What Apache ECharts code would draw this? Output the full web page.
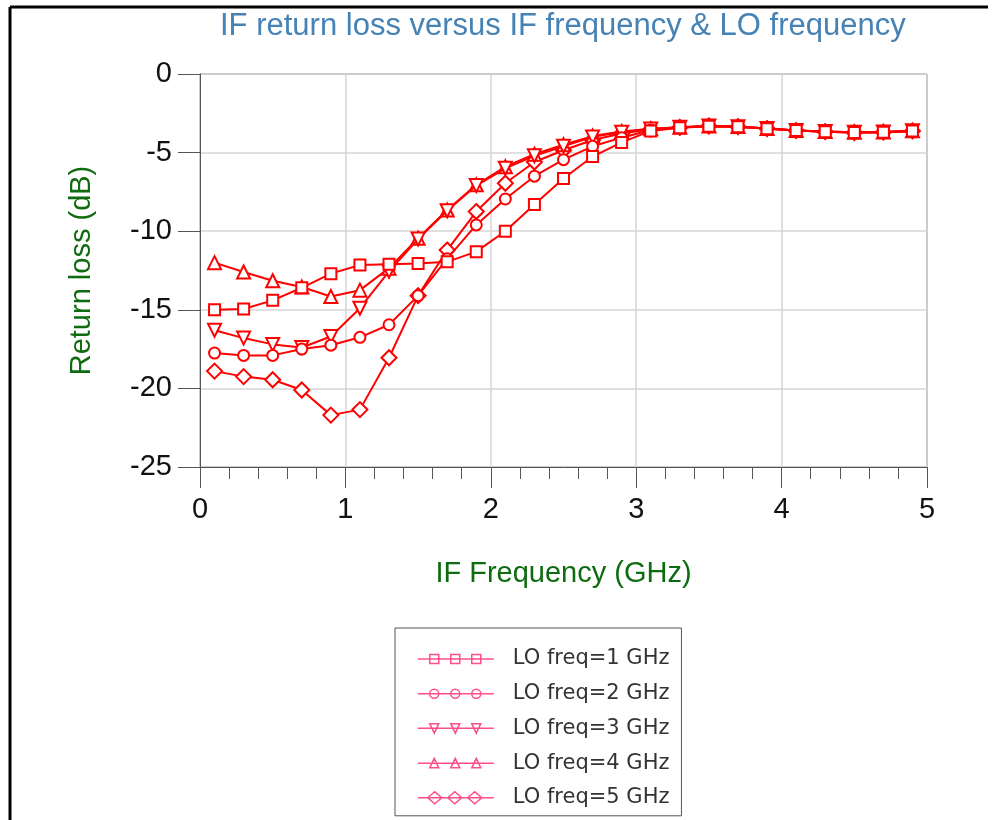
<!DOCTYPE html>
<html>
<head>
<meta charset="utf-8">
<script src="https://cdn.jsdelivr.net/npm/echarts@6/dist/echarts.min.js"></script>
<style>
  html, body { margin: 0; padding: 0; background: #fff; }
  #chart { width: 996px; height: 820px; }
</style>
</head>
<body>
<div id="chart"></div>
<script>
// IF frequency (GHz)
const freq = [0.1, 0.3, 0.5, 0.7, 0.9, 1.1, 1.3, 1.5, 1.7, 1.9, 2.1, 2.3, 2.5, 2.7, 2.9,
  3.1, 3.3, 3.5, 3.7, 3.9, 4.1, 4.3, 4.5, 4.7, 4.9];
// return loss (dB) for each LO frequency
const lo1 = [-15.0, -14.95, -14.4, -13.6, -12.7, -12.15, -12.1, -12.05, -11.95, -11.3, -10.0, -8.3, -6.65, -5.25, -4.35,
  -3.62, -3.42, -3.33, -3.36, -3.48, -3.6, -3.67, -3.72, -3.7, -3.62];
const lo2 = [-17.75, -17.9, -17.9, -17.5, -17.25, -16.75, -15.95, -14.1, -11.75, -9.6, -7.95, -6.5, -5.45, -4.6, -4.05,
  -3.56, -3.4, -3.32, -3.35, -3.47, -3.6, -3.67, -3.72, -3.7, -3.62];
const lo3 = [-16.3, -16.8, -17.2, -17.4, -16.7, -14.9, -12.55, -10.5, -8.7, -7.1, -6.0, -5.2, -4.6, -4.0, -3.7,
  -3.5, -3.39, -3.31, -3.35, -3.47, -3.59, -3.66, -3.71, -3.69, -3.61];
const lo4 = [-12.0, -12.6, -13.15, -13.55, -14.15, -13.75, -12.35, -10.45, -8.65, -7.05, -5.9, -5.1, -4.5, -3.95, -3.65,
  -3.49, -3.38, -3.3, -3.34, -3.46, -3.59, -3.66, -3.71, -3.69, -3.61];
const lo5 = [-18.9, -19.25, -19.45, -20.1, -21.7, -21.35, -18.05, -14.1, -11.2, -8.75, -6.95, -5.6, -4.85, -4.2, -3.78,
  -3.52, -3.4, -3.31, -3.35, -3.47, -3.6, -3.67, -3.72, -3.7, -3.62];
const names = ['LO freq=1 GHz', 'LO freq=2 GHz', 'LO freq=3 GHz', 'LO freq=4 GHz', 'LO freq=5 GHz'];
const xTicks = [0, 1, 2, 3, 4, 5];
const yTicks = [0, -5, -10, -15, -20, -25];

const font = 'Liberation Sans, Arial, sans-serif';
const red = '#ff0000';
const pink = '#ff4f8a';

// marker per curve: [symbol, size, rotate]
const marks = [
  ['emptyRect', 11, 0],
  ['emptyCircle', 11, 0],
  ['emptyTriangle', 13, 180],
  ['emptyTriangle', 13, 0],
  ['emptyDiamond', 15, 0]
];
// legend icons: line with three markers
const icons = [
  'path://M0,7H76M12,2.5h9v9h-9zM33,2.5h9v9h-9zM54,2.5h9v9h-9z',
  'path://M0,7H76M12,7a4.5,4.5 0 1,0 9,0a4.5,4.5 0 1,0 -9,0M33,7a4.5,4.5 0 1,0 9,0a4.5,4.5 0 1,0 -9,0M54,7a4.5,4.5 0 1,0 9,0a4.5,4.5 0 1,0 -9,0',
  'path://M0,7H76M12,2.5H21L16.5,12ZM33,2.5H42L37.5,12ZM54,2.5H63L58.5,12Z',
  'path://M0,7H76M16.5,2L21,11.5H12ZM37.5,2L42,11.5H33ZM58.5,2L63,11.5H54Z',
  'path://M0,7H76M10,7L17,1L24,7L17,13ZM30,7L37,1L44,7L37,13ZM50,7L57,1L64,7L57,13Z'
];

const curves = [lo1, lo2, lo3, lo4, lo5];

let myChart = echarts.init(document.getElementById('chart'));
myChart.setOption({
  animation: false,
  title: {
    text: 'IF return loss versus IF frequency & LO frequency',
    left: 220,
    top: 11,
    padding: 0,
    textStyle: { color: '#4682b4', fontSize: 31, fontWeight: 'normal', fontFamily: font }
  },
  legend: {
    orient: 'vertical',
    left: 395,
    top: 628,
    padding: [20, 12, 7, 22],
    itemGap: 12.7,
    itemWidth: 76,
    itemHeight: 12,
    backgroundColor: '#fff',
    borderColor: '#555',
    borderWidth: 1,
    textStyle: { color: '#333', fontSize: 21, lineHeight: 22, fontFamily: 'DejaVu Sans', padding: [0, 0, 0, 14] },
    data: names.map((n, i) => ({
      name: n,
      icon: icons[i],
      itemStyle: { color: 'rgba(0,0,0,0)', borderColor: pink, borderWidth: 1.5 }
    }))
  },
  grid: {
    left: 200, right: 69, top: 74, bottom: 353,
    show: true, borderColor: '#666', borderWidth: 1
  },
  xAxis: {
    type: 'value',
    position: 'bottom',
    min: xTicks[0], max: xTicks[xTicks.length - 1], interval: 1,
    name: 'IF Frequency (GHz)',
    nameLocation: 'middle',
    nameGap: 92,
    nameTextStyle: { color: '#0f6b0f', fontSize: 29, fontFamily: font },
    axisLine: { show: true, onZero: false, lineStyle: { color: '#555', width: 1 } },
    axisTick: { show: true, inside: false, length: 21, lineStyle: { color: '#555', width: 1 } },
    minorTick: { show: true, splitNumber: 5, length: 12, lineStyle: { color: '#555', width: 1 } },
    axisLabel: { color: '#111', fontSize: 29, fontFamily: font, margin: 29, lineHeight: 28, showMaxLabel: true },
    splitLine: { lineStyle: { color: '#d6d6d6', width: 1.5 } }
  },
  yAxis: {
    type: 'value',
    min: yTicks[yTicks.length - 1], max: yTicks[0], interval: 5,
    name: 'Return loss (dB)',
    nameLocation: 'middle',
    nameGap: 104,
    nameTextStyle: { color: '#0f6b0f', fontSize: 29, fontFamily: font },
    axisLine: { show: true, onZero: false, lineStyle: { color: '#555', width: 1 } },
    axisTick: { show: true, inside: false, length: 22, lineStyle: { color: '#555' } },
    axisLabel: { color: '#111', fontSize: 29, fontFamily: font, margin: 28 },
    splitLine: { lineStyle: { color: '#d6d6d6', width: 1.5 } }
  },
  graphic: [
    { type: 'line', shape: { x1: 10, y1: 7, x2: 988, y2: 7 }, style: { stroke: '#000', lineWidth: 3 } },
    { type: 'line', shape: { x1: 10, y1: 7, x2: 10, y2: 820 }, style: { stroke: '#000', lineWidth: 3 } }
  ],
  series: curves.map((vals, i) => ({
    name: names[i],
    type: 'line',
    z: 10 - i,
    data: freq.map((f, k) => [f, vals[k]]),
    symbol: marks[i][0],
    symbolSize: marks[i][1],
    symbolRotate: marks[i][2],
    showAllSymbol: true,
    lineStyle: { color: red, width: 2 },
    itemStyle: { color: red, borderWidth: 2 }
  }))
});
</script>
</body>
</html>
